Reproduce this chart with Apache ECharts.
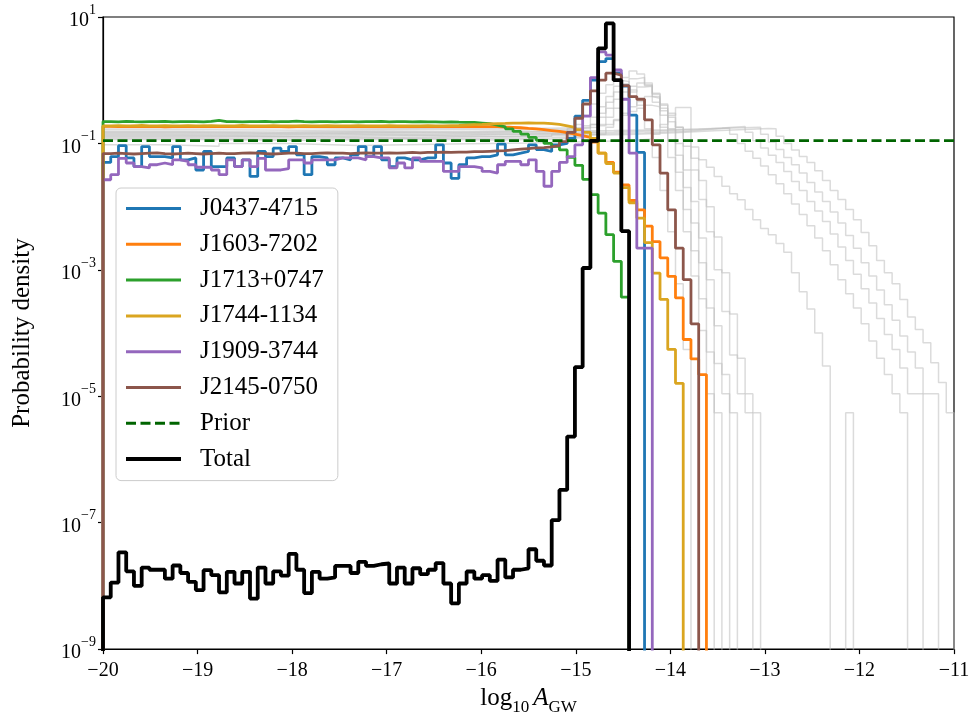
<!DOCTYPE html>
<html>
<head>
<meta charset="utf-8">
<title>log10 A_GW posterior</title>
<script src="https://cdn.jsdelivr.net/npm/echarts@6/dist/echarts.min.js"></script>
<style>
  html, body { margin: 0; padding: 0; background: #fff; }
  #chart { width: 974px; height: 721px; }
</style>
</head>
<body>
<div id="chart"></div>
<script>
// histogram bins: 110 bins of equal width over [-20, -11]
const binStart = -20;
const binWidth = 9 / 110;

// densities per bin, starting at bin 0 (-20); the line drops to zero after the last bin
const total = [
  6.6e-9, 1.13e-8, 3.4e-8, 1.7e-8, 1.0e-8, 1.95e-8, 1.8e-8, 1.8e-8, 1.3e-8, 2.1e-8,
  1.6e-8, 1.16e-8, 8.6e-9, 1.77e-8, 1.48e-8, 7.9e-9, 1.67e-8, 1.09e-8, 1.67e-8, 6.3e-9,
  1.95e-8, 1.09e-8, 1.7e-8, 1.45e-8, 3.2e-8, 1.8e-8, 7.7e-9, 1.67e-8, 1.3e-8, 1.36e-8,
  2.07e-8, 2.07e-8, 1.6e-8, 2.4e-8, 2.07e-8, 2.2e-8, 2.26e-8, 1.09e-8, 1.95e-8, 1.09e-8,
  1.9e-8, 1.53e-8, 1.8e-8, 2.3e-8, 1.09e-8, 5.3e-9, 1.09e-8, 1.69e-8, 1.3e-8, 1.48e-8,
  1.2e-8, 2.6e-8, 1.36e-8, 1.8e-8, 1.9e-8, 3.8e-8, 2.5e-8, 2.1e-8, 1.1e-7, 3.3e-7,
  2.3e-6, 2.9e-5, 1.07e-3, 0.11, 3.2, 7.9, 1.0, 4.1e-3
];
const j0437 = [
  0.05, 0.062, 0.092, 0.059, 0.043, 0.089, 0.062, 0.062, 0.059, 0.089,
  0.055, 0.059, 0.038, 0.0745, 0.043, 0.043, 0.059, 0.043, 0.055, 0.030,
  0.0745, 0.062, 0.084, 0.0745, 0.089, 0.066, 0.032, 0.062, 0.059, 0.046,
  0.059, 0.055, 0.066, 0.089, 0.062, 0.089, 0.055, 0.043, 0.059, 0.055,
  0.055, 0.059, 0.059, 0.095, 0.049, 0.028, 0.046, 0.059, 0.062, 0.062,
  0.066, 0.0975, 0.066, 0.07, 0.0745, 0.095, 0.08, 0.0745, 0.095, 0.1,
  0.12, 0.27, 0.48, 1.0, 1.97, 2.2, 1.3, 0.81, 0.28, 0.072
];
const j1603 = [
  0.186, 0.184, 0.185, 0.187, 0.184, 0.185, 0.186, 0.183, 0.185, 0.186,
  0.184, 0.185, 0.187, 0.185, 0.184, 0.186, 0.185, 0.184, 0.186, 0.185,
  0.184, 0.186, 0.185, 0.183, 0.185, 0.186, 0.184, 0.185, 0.186, 0.184,
  0.185, 0.186, 0.184, 0.185, 0.185, 0.184, 0.186, 0.185, 0.184, 0.185,
  0.186, 0.185, 0.184, 0.185, 0.186, 0.184, 0.185, 0.185, 0.184, 0.185,
  0.185, 0.182, 0.18, 0.177, 0.173, 0.17, 0.165, 0.16, 0.155, 0.148,
  0.14, 0.133, 0.125, 0.105, 0.07, 0.05, 0.035, 0.022, 0.0125, 8.9e-3,
  4.9e-3, 2.8e-3, 1.55e-3, 7.9e-4, 3.6e-4, 7.9e-5, 3.9e-5, 2.2e-5
];
const j1713 = [
  0.222, 0.22, 0.223, 0.221, 0.22, 0.222, 0.221, 0.223, 0.22, 0.222,
  0.221, 0.222, 0.22, 0.223, 0.232, 0.222, 0.221, 0.22, 0.222, 0.221,
  0.223, 0.22, 0.221, 0.222, 0.226, 0.221, 0.22, 0.222, 0.221, 0.22,
  0.222, 0.221, 0.22, 0.222, 0.221, 0.223, 0.22, 0.221, 0.222, 0.22,
  0.221, 0.219, 0.22, 0.218, 0.219, 0.217, 0.216, 0.215, 0.21, 0.205,
  0.195, 0.183, 0.17, 0.155, 0.14, 0.125, 0.112, 0.1, 0.09, 0.079,
  0.06, 0.045, 0.027, 0.0155, 7.9e-3, 3.6e-3, 1.36e-3, 3.7e-4
];
const j1744 = [
  0.19, 0.191, 0.189, 0.19, 0.192, 0.19, 0.189, 0.191, 0.19, 0.19,
  0.191, 0.189, 0.19, 0.191, 0.19, 0.189, 0.19, 0.192, 0.19, 0.189,
  0.19, 0.191, 0.19, 0.19, 0.189, 0.191, 0.19, 0.19, 0.191, 0.189,
  0.19, 0.19, 0.191, 0.19, 0.189, 0.19, 0.191, 0.19, 0.19, 0.189,
  0.19, 0.191, 0.19, 0.19, 0.191, 0.192, 0.195, 0.198, 0.2, 0.203,
  0.205, 0.207, 0.21, 0.21, 0.211, 0.21, 0.21, 0.205, 0.2, 0.19,
  0.18, 0.165, 0.15, 0.12, 0.07, 0.048, 0.034, 0.02, 0.0115, 6.6e-3,
  2.7e-3, 8.9e-4, 3.4e-4, 5.5e-5, 1.6e-5
];
const j1909 = [
  0.0266, 0.032, 0.058, 0.049, 0.043, 0.041, 0.046, 0.049, 0.046, 0.055,
  0.052, 0.046, 0.042, 0.042, 0.038, 0.032, 0.055, 0.043, 0.055, 0.043,
  0.058, 0.038, 0.038, 0.04, 0.055, 0.055, 0.049, 0.055, 0.055, 0.055,
  0.059, 0.059, 0.059, 0.055, 0.062, 0.059, 0.059, 0.041, 0.049, 0.041,
  0.059, 0.052, 0.052, 0.052, 0.036, 0.036, 0.043, 0.043, 0.041, 0.036,
  0.034, 0.046, 0.052, 0.052, 0.046, 0.055, 0.036, 0.021, 0.036, 0.05,
  0.062, 0.095, 0.27, 1.1, 2.8, 2.5, 1.45, 0.5, 0.07, 2.2e-3,
  2.2e-3
];
const j2145 = [
  0.069, 0.07, 0.069, 0.068, 0.069, 0.07, 0.071, 0.069, 0.068, 0.069,
  0.07, 0.069, 0.068, 0.069, 0.07, 0.069, 0.069, 0.07, 0.071, 0.07,
  0.069, 0.068, 0.069, 0.07, 0.07, 0.069, 0.069, 0.07, 0.071, 0.07,
  0.07, 0.069, 0.07, 0.071, 0.07, 0.07, 0.071, 0.07, 0.071, 0.072,
  0.071, 0.072, 0.072, 0.073, 0.072, 0.073, 0.073, 0.074, 0.074, 0.075,
  0.076, 0.077, 0.079, 0.081, 0.083, 0.085, 0.086, 0.088, 0.092, 0.107,
  0.15, 0.25, 0.42, 0.68, 1.0, 1.29, 1.2, 0.82, 0.55, 0.5,
  0.236, 0.095, 0.034, 8.9e-3, 2.2e-3, 7e-4, 1.4e-4
];
const priorX = [-20, -11];
const priorY = [0.111, 0.111];

// the other pulsars (grey): [first bin, density] runs, a density of 0 means empty bins
const others = [
  [[0,0.15],[10,0.146],[21,0.152],[33,0.149],[46,0.153],[56,0.158],[60,0.17],[61,0.2],[62,0.28],[63,0.42],[64,0.62],[65,0.85],[66,1.0],[67,0.95],[68,0.7],[69,0.4],[70,0.17],[71,0.06],[72,0.018],[73,4e-3],[74,6e-4],[75,5.5e-5],[76,0]],
  [[0,0.14],[7,0.137],[19,0.142],[31,0.138],[44,0.141],[55,0.145],[60,0.16],[62,0.19],[63,0.26],[64,0.38],[65,0.55],[66,0.8],[67,1.1],[68,1.4],[69,1.25],[70,0.85],[71,0.45],[72,0.18],[73,0.06],[74,0.018],[75,4e-3],[76,8e-4],[77,1.1e-4],[78,1.1e-5],[79,0]],
  [[0,0.125],[12,0.128],[25,0.123],[38,0.127],[50,0.13],[58,0.14],[62,0.16],[63,0.2],[64,0.3],[65,0.45],[66,0.65],[67,0.88],[68,1.05],[69,1.1],[70,0.9],[71,0.55],[72,0.28],[73,0.11],[74,0.035],[75,9e-3],[76,2e-3],[77,3.5e-4],[78,5e-5],[79,5.5e-6],[80,0]],
  [[0,0.165],[14,0.162],[27,0.167],[40,0.163],[52,0.168],[60,0.175],[63,0.2],[64,0.26],[65,0.36],[66,0.5],[67,0.65],[68,0.8],[69,0.9],[70,0.82],[71,0.6],[72,0.36],[73,0.17],[74,0.065],[75,0.02],[76,5.5e-3],[77,1.3e-3],[78,2.5e-4],[79,3.3e-5],[80,1.1e-5],[81,0]],
  [[0,0.12],[11,0.118],[23,0.122],[36,0.119],[49,0.123],[58,0.13],[63,0.15],[64,0.19],[65,0.26],[66,0.36],[67,0.5],[68,0.65],[69,0.78],[70,0.8],[71,0.62],[72,0.4],[73,0.22],[74,0.1],[75,0.038],[76,0.012],[77,3.2e-3],[78,7e-4],[79,1.3e-4],[80,2.2e-5],[81,5.5e-6],[82,0]],
  [[0,0.115],[13,0.112],[26,0.117],[39,0.113],[51,0.118],[59,0.125],[63,0.14],[65,0.18],[66,0.23],[67,0.3],[68,0.38],[69,0.46],[70,0.55],[71,0.52],[72,0.42],[73,0.3],[74,0.18],[75,0.09],[76,0.038],[77,0.013],[78,4e-3],[79,1e-3],[80,2.2e-4],[81,4.5e-5],[82,1.1e-5],[83,5.5e-6],[84,0]],
  [[0,0.175],[9,0.178],[22,0.172],[35,0.176],[48,0.174],[58,0.18],[64,0.2],[66,0.24],[67,0.28],[68,0.32],[69,0.36],[70,0.4],[71,0.38],[72,0.33],[73,0.26],[74,0.18],[75,0.11],[76,0.058],[77,0.026],[78,0.01],[79,3.3e-3],[80,9e-4],[81,2e-4],[82,4e-5],[83,1.1e-5],[84,5.5e-6],[85,0]],
  [[0,0.095],[8,0.09],[15,0.1],[24,0.093],[33,0.098],[45,0.102],[55,0.106],[62,0.11],[68,0.118],[71,0.14],[72,0.2],[73,0.28],[74,0.37],[76,0.088],[77,0.055],[78,0.042],[79,0.03],[80,0.021],[81,0.016],[82,0.0128],[83,9e-3],[84,6.2e-3],[85,4.5e-3],[86,3.6e-3],[87,2.6e-3],[88,1.9e-3],[89,9e-4],[90,4.5e-4],[91,2.4e-4],[92,1e-4],[93,3e-5],[94,0],[96,5.5e-6],[97,0]],
  [[0,0.135],[10,0.132],[22,0.137],[34,0.133],[46,0.138],[56,0.142],[64,0.148],[70,0.155],[75,0.165],[78,0.172],[80,0.175],[81,0.14],[82,0.1],[83,0.075],[84,0.058],[85,0.044],[86,0.032],[87,0.023],[88,0.016],[89,0.011],[90,7.5e-3],[91,5e-3],[92,3.2e-3],[93,2e-3],[94,1.2e-3],[95,7e-4],[96,4.2e-4],[97,2.5e-4],[98,1.4e-4],[99,7.5e-5],[100,4e-5],[101,2.2e-5],[102,1.1e-5],[103,5.5e-6],[104,0]],
  [[0,0.145],[12,0.142],[24,0.147],[37,0.143],[49,0.148],[58,0.152],[66,0.158],[72,0.166],[77,0.175],[80,0.182],[82,0.185],[83,0.15],[84,0.11],[85,0.085],[86,0.065],[87,0.05],[88,0.036],[89,0.025],[90,0.018],[91,0.012],[92,8.5e-3],[93,5.8e-3],[94,3.7e-3],[95,2.3e-3],[96,1.4e-3],[97,8.5e-4],[98,5e-4],[99,3e-4],[100,1.7e-4],[101,9.5e-5],[102,5.5e-5],[103,2.8e-5],[104,1.1e-5],[105,1.1e-5],[106,0]],
  [[0,0.155],[11,0.152],[23,0.157],[36,0.153],[48,0.156],[58,0.16],[66,0.165],[73,0.172],[79,0.18],[85,0.14],[86,0.105],[87,0.08],[88,0.06],[89,0.046],[90,0.034],[91,0.024],[92,0.017],[93,0.012],[94,8.2e-3],[95,5.5e-3],[96,3.5e-3],[97,2.2e-3],[98,1.3e-3],[99,8e-4],[100,4.8e-4],[101,2.8e-4],[102,1.6e-4],[103,9e-5],[104,5e-5],[105,2.8e-5],[106,1.1e-5],[107,1.1e-5],[108,0]],
  [[0,0.13],[13,0.127],[26,0.132],[39,0.128],[52,0.133],[60,0.138],[68,0.148],[74,0.158],[79,0.166],[83,0.172],[86,0.17],[87,0.13],[88,0.1],[89,0.079],[90,0.062],[91,0.05],[92,0.037],[93,0.026],[94,0.018],[95,0.013],[96,9e-3],[97,6.2e-3],[98,3.9e-3],[99,2.4e-3],[100,1.4e-3],[101,9e-4],[102,6e-4],[103,3.4e-4],[104,1.8e-4],[105,1.14e-4],[106,7e-5],[107,3.4e-5],[108,1.65e-5],[109,5.5e-6],[110,0]]
];

const pulsars = [
  {name: 'J0437-4715', values: j0437, color: '#1f77b4'},
  {name: 'J1603-7202', values: j1603, color: '#ff7f0e'},
  {name: 'J1713+0747', values: j1713, color: '#2ca02c'},
  {name: 'J1744-1134', values: j1744, color: '#daa520'},
  {name: 'J1909-3744', values: j1909, color: '#9467bd'},
  {name: 'J2145-0750', values: j2145, color: '#8c564b'}
];

const FONT = 'Liberation Serif';
const FLOOR = -12; // log10 used for empty bins, below the axis so it is clipped
const lg = v => (v > 0 ? Math.log10(v) : FLOOR);
const minus = n => (n < 0 ? '\u2212' : '') + Math.abs(n);

// step outline of a histogram given one density per bin
function histPoints(values) {
  const pts = [[binStart, FLOOR]];
  values.forEach((v, i) => pts.push([binStart + i * binWidth, lg(v)]));
  const end = binStart + values.length * binWidth;
  pts.push([end, lg(values[values.length - 1])]);
  pts.push([end, FLOOR]);
  return pts;
}
// step outline from [first bin, density] runs
function runPoints(runs) {
  const pts = [[binStart, FLOOR]];
  runs.forEach(([b, v]) => pts.push([binStart + b * binWidth, lg(v)]));
  return pts;
}

const base = {type: 'line', step: 'end', symbol: 'none', showSymbol: false, silent: true, animation: false, emphasis: {disabled: true}};

const series = [];
others.forEach((runs, i) => series.push({
  ...base, name: 'other' + i, data: runPoints(runs),
  lineStyle: {color: 'rgba(190,190,190,0.55)', width: 1.5}
}));
pulsars.forEach(p => series.push({
  ...base, name: p.name, data: histPoints(p.values), color: p.color,
  lineStyle: {color: p.color, width: 2.8}
}));
series.push({
  ...base, step: false, name: 'Prior', color: '#006400',
  data: priorX.map((x, i) => [x, lg(priorY[i])]),
  lineStyle: {color: '#006400', width: 2.8, type: [10, 4.5]}
});
series.push({
  ...base, name: 'Total', data: histPoints(total), color: '#000',
  lineStyle: {color: '#000', width: 3.8}
});

const chart = echarts.init(document.getElementById('chart'));
chart.setOption({
  animation: false,
  backgroundColor: '#fff',
  textStyle: {fontFamily: FONT, color: '#000'},
  grid: {left: 103, right: 20, top: 17, bottom: 71, show: true, borderColor: '#000', borderWidth: 1.2, backgroundColor: 'transparent'},
  xAxis: {
    type: 'value', min: -20, max: -11, interval: 1,
    axisLine: {show: true, onZero: false, lineStyle: {color: '#000', width: 1.2}},
    axisTick: {show: true, length: 5, lineStyle: {color: '#000', width: 1.2}},
    splitLine: {show: false},
    axisLabel: {color: '#000', fontFamily: FONT, fontSize: 20, margin: 12, formatter: v => minus(v)},
    name: '{n|log}{s|10}{i|A}{s|GW}',
    nameLocation: 'middle', nameGap: 36,
    nameTextStyle: {
      fontFamily: FONT, color: '#000', fontSize: 25,
      rich: {
        n: {fontFamily: FONT, fontSize: 25, lineHeight: 30, verticalAlign: 'top'},
        i: {fontFamily: FONT, fontSize: 25, fontStyle: 'italic', lineHeight: 30, verticalAlign: 'top', padding: [0, 0, 0, 4]},
        s: {fontFamily: FONT, fontSize: 17, lineHeight: 17, verticalAlign: 'bottom'}
      }
    }
  },
  yAxis: {
    type: 'value', min: -9, max: 1, interval: 2,
    axisLine: {show: true, onZero: false, lineStyle: {color: '#000', width: 1.2}},
    axisTick: {show: true, length: 5, lineStyle: {color: '#000', width: 1.2}},
    splitLine: {show: false},
    axisLabel: {
      color: '#000', fontFamily: FONT, margin: 7,
      formatter: v => '{b|10}{s|' + minus(v) + '}',
      rich: {
        b: {fontFamily: FONT, fontSize: 20, lineHeight: 28, verticalAlign: 'bottom'},
        s: {fontFamily: FONT, fontSize: 14, lineHeight: 14, verticalAlign: 'top'}
      }
    },
    name: 'Probability density',
    nameLocation: 'middle', nameGap: 68,
    nameTextStyle: {fontFamily: FONT, color: '#000', fontSize: 25}
  },
  legend: {
    left: 116, top: 188, orient: 'vertical',
    itemWidth: 55, itemHeight: 24, itemGap: 10.8,
    padding: [8, 14, 9, 8],
    backgroundColor: 'rgba(255,255,255,0.8)', borderColor: '#cccccc', borderWidth: 1, borderRadius: 5,
    selectedMode: false,
    itemStyle: {opacity: 0, borderWidth: 0},
    lineStyle: {width: 3},
    textStyle: {fontFamily: FONT, fontSize: 25, lineHeight: 24, color: '#000', padding: [0, 0, 0, 14]},
    data: pulsars.map(p => p.name).concat(['Prior', {name: 'Total', lineStyle: {width: 4}}])
  },
  series: series
});
</script>
</body>
</html>
